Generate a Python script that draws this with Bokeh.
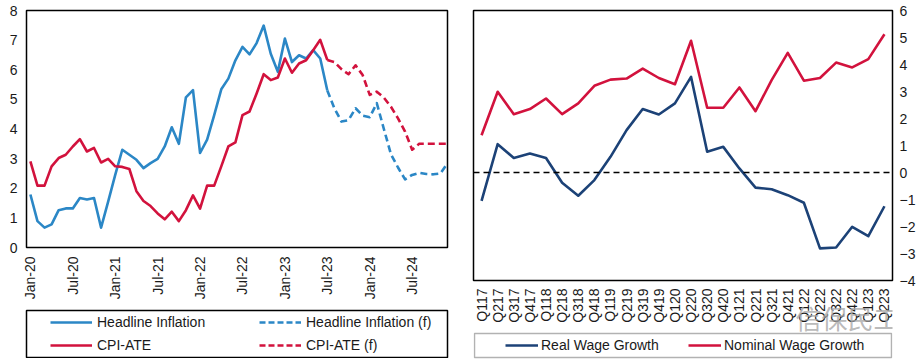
import numpy as np
import pandas as pd
from bokeh.plotting import figure
from bokeh.layouts import row, column
from bokeh.models import (Legend, LegendItem, Range1d, FactorRange, FixedTicker,
                          Span, BoxAnnotation, Label)
from bokeh.embed import file_html
from bokeh.resources import INLINE

# ---------------- Left panel data (monthly, Jan-20 .. Dec-24) ----------------
month_labels = [d.strftime("%b-%y") for d in pd.date_range("2020-01-01", periods=60, freq="MS")]
tick_labels = ["Jan-20", "Jul-20", "Jan-21", "Jul-21", "Jan-22", "Jul-22",
               "Jan-23", "Jul-23", "Jan-24", "Jul-24"]

headline_actual = [1.79, 0.89, 0.67, 0.78, 1.26, 1.32, 1.32, 1.67, 1.62, 1.67,
                   0.67, 1.55, 2.45, 3.30, 3.13, 2.96, 2.68, 2.85, 2.99, 3.41,
                   4.06, 3.50, 5.07, 5.31, 3.19, 3.64, 4.47, 5.34, 5.70, 6.32,
                   6.77, 6.52, 6.90, 7.49, 6.54, 5.93, 7.05, 6.26, 6.49, 6.38,
                   6.66, 6.38, 5.30]
headline_fcst = [5.30, 4.70, 4.25, 4.30, 4.70, 4.45, 4.40, 4.87, 4.00, 3.15,
                 2.70, 2.30, 2.45, 2.52, 2.48, 2.47, 2.50, 2.85]
cpi_ate_actual = [2.91, 2.09, 2.09, 2.74, 3.02, 3.13, 3.41, 3.66, 3.24, 3.36,
                  2.87, 2.99, 2.74, 2.72, 2.65, 1.90, 1.57, 1.40, 1.15, 0.95,
                  1.21, 0.89, 1.26, 1.76, 1.31, 2.09, 2.09, 2.74, 3.41, 3.55,
                  4.47, 4.59, 5.20, 5.85, 5.65, 5.74, 6.38, 5.90, 6.21, 6.32,
                  6.66, 7.01, 6.33]
cpi_ate_fcst = [6.33, 6.26, 6.02, 5.85, 6.15, 5.82, 5.15, 5.26, 5.06, 4.75,
                4.36, 3.91, 3.30, 3.50, 3.50, 3.50, 3.50, 3.50]

# ---------------- Right panel data (quarterly) ----------------
quarters = ["Q117", "Q217", "Q317", "Q417", "Q118", "Q218", "Q318", "Q418",
            "Q119", "Q219", "Q319", "Q419", "Q120", "Q220", "Q320", "Q420",
            "Q121", "Q221", "Q321", "Q421", "Q122", "Q222", "Q322", "Q422",
            "Q123", "Q223"]
real_wage = [-1.05, 1.05, 0.54, 0.70, 0.54, -0.38, -0.86, -0.28, 0.58, 1.57,
             2.35, 2.15, 2.56, 3.54, 0.77, 0.95, 0.15, -0.56, -0.62, -0.84,
             -1.12, -2.81, -2.78, -2.01, -2.36, -1.25]
nominal_wage = [1.38, 2.99, 2.16, 2.35, 2.74, 2.16, 2.56, 3.21, 3.44, 3.48,
                3.85, 3.50, 3.27, 4.88, 2.40, 2.40, 3.15, 2.27, 3.42, 4.43,
                3.40, 3.50, 4.07, 3.89, 4.20, 5.12]

watermark = "信保民工"

BLUE = "#2B87C6"
RED = "#D2123D"
NAVY = "#1C4277"
FONT = "Liberation Sans"
TXT = "#1a1a1a"
LW = 2.6
DASH = "7 4"
NAN2 = [np.nan, np.nan]


def style_axes(p):
    for ax in p.axis:
        ax.axis_line_color = None
        ax.major_tick_line_color = None
        ax.minor_tick_line_color = None
        ax.major_tick_out = 0
        ax.major_tick_in = 0
        ax.major_label_text_font = FONT
        ax.major_label_text_font_size = "14px"
        ax.major_label_text_color = TXT
    p.xgrid.visible = False
    p.ygrid.visible = False
    p.outline_line_color = "black"
    p.outline_line_width = 1.5
    p.background_fill_color = "white"
    p.border_fill_color = "white"


def legend_fig(width, height, left, right, margin):
    f = figure(width=width, height=height, output_backend="svg", toolbar_location=None,
               x_axis_location=None, y_axis_location=None,
               x_range=Range1d(0, width - left - right), y_range=Range1d(0, height - 2),
               min_border_left=left, min_border_right=right,
               min_border_top=1, min_border_bottom=1, margin=margin)
    f.xgrid.visible = False
    f.ygrid.visible = False
    f.border_fill_alpha = 0
    f.background_fill_alpha = 0
    return f


# ---------------- Left figure ----------------
n_act = len(headline_actual)
x_act = list(range(n_act))
x_fc = list(range(n_act - 1, n_act - 1 + len(headline_fcst)))

p1 = figure(width=460, height=302, output_backend="svg", toolbar_location=None,
            x_range=Range1d(-0.55, len(month_labels) - 1), y_range=Range1d(0, 8),
            min_border_left=26, min_border_right=13, min_border_top=10,
            min_border_bottom=54)
style_axes(p1)
p1.yaxis.ticker = FixedTicker(ticks=list(range(0, 9)))
p1.yaxis.major_label_standoff = 9
tick_pos = [month_labels.index(t) for t in tick_labels]
p1.xaxis.ticker = FixedTicker(ticks=tick_pos)
p1.xaxis.major_label_overrides = {pos: lab for pos, lab in zip(tick_pos, tick_labels)}
p1.xaxis.major_label_orientation = np.pi / 2
p1.xaxis.major_label_standoff = 9

p1.line(x_act, headline_actual, line_color=BLUE, line_width=LW, line_join="round")
p1.line(x_fc, headline_fcst, line_color=BLUE, line_width=LW, line_dash=DASH, line_join="round")
p1.line(x_act, cpi_ate_actual, line_color=RED, line_width=LW, line_join="round")
p1.line(x_fc, cpi_ate_fcst, line_color=RED, line_width=LW, line_dash=DASH, line_join="round")

# left legend box (its frame outline is the legend border)
lf1 = legend_fig(460, 49, 26, 13, (7, 0, 0, 0))
lf1.outline_line_color = "black"
lf1.outline_line_width = 1.5
lg_ha = lf1.line(NAN2, NAN2, line_color=BLUE, line_width=LW)
lg_hf = lf1.line(NAN2, NAN2, line_color=BLUE, line_width=LW, line_dash="6 3")
lg_ca = lf1.line(NAN2, NAN2, line_color=RED, line_width=LW)
lg_cf = lf1.line(NAN2, NAN2, line_color=RED, line_width=LW, line_dash="6 3")
leg1 = Legend(items=[LegendItem(label="Headline Inflation", renderers=[lg_ha]),
                     LegendItem(label="CPI-ATE", renderers=[lg_ca]),
                     LegendItem(label="Headline Inflation (f)", renderers=[lg_hf]),
                     LegendItem(label="CPI-ATE (f)", renderers=[lg_cf])],
              ncols=2, location=(24, 4), padding=0, spacing=7, margin=0,
              glyph_width=42, glyph_height=16, label_height=16, label_width=155,
              label_standoff=5, border_line_alpha=0, background_fill_alpha=0,
              label_text_font=FONT, label_text_font_size="14px", label_text_color=TXT)
lf1.add_layout(leg1, "center")

# ---------------- Right figure ----------------
p2 = figure(width=458, height=325, output_backend="svg", toolbar_location=None,
            x_range=FactorRange(factors=quarters), y_range=Range1d(-4, 6),
            y_axis_location="right",
            min_border_left=13, min_border_right=26, min_border_top=10,
            min_border_bottom=45)
style_axes(p2)
p2.yaxis.ticker = FixedTicker(ticks=list(range(-4, 7)))
p2.yaxis.major_label_standoff = 7
p2.xaxis.major_label_orientation = np.pi / 2
p2.xaxis.major_label_standoff = 8

p2.add_layout(Span(location=0, dimension="width", line_color="black",
                   line_width=1.5, line_dash="6 4"))
p2.line(quarters, real_wage, line_color=NAVY, line_width=LW, line_join="round")
p2.line(quarters, nominal_wage, line_color=RED, line_width=LW, line_join="round")

# right legend box + watermark (transparent overlay figure)
lf2 = legend_fig(458, 62, 13, 26, (-27, 0, 0, 0))
lf2.outline_line_color = None
lf2.add_layout(BoxAnnotation(left=1, right=418, bottom=2, top=26,
                             fill_alpha=0, line_color="black", line_width=1.5))
lg_r = lf2.line(NAN2, NAN2, line_color=NAVY, line_width=LW)
lg_n = lf2.line(NAN2, NAN2, line_color=RED, line_width=LW)
leg2 = Legend(items=[LegendItem(label="Real Wage Growth", renderers=[lg_r]),
                     LegendItem(label="Nominal Wage Growth", renderers=[lg_n])],
              orientation="horizontal", location=(32, 6), padding=0, spacing=7,
              margin=0, glyph_width=33, glyph_height=16, label_height=16,
              label_width=140, label_standoff=3, border_line_alpha=0,
              background_fill_alpha=0, label_text_font=FONT,
              label_text_font_size="14px", label_text_color=TXT)
lf2.add_layout(leg2, "center")
lf2.add_layout(Label(x=374, y=42, text=watermark, text_font="Noto Sans CJK SC",
                     text_font_size="26px", text_color="#A8A8A8", text_alpha=0.8,
                     text_align="center", text_baseline="middle"))

layout = row(column(p1, lf1, spacing=0), column(p2, lf2, spacing=0), spacing=0)
open("out.html", "w").write(file_html(layout, INLINE))
